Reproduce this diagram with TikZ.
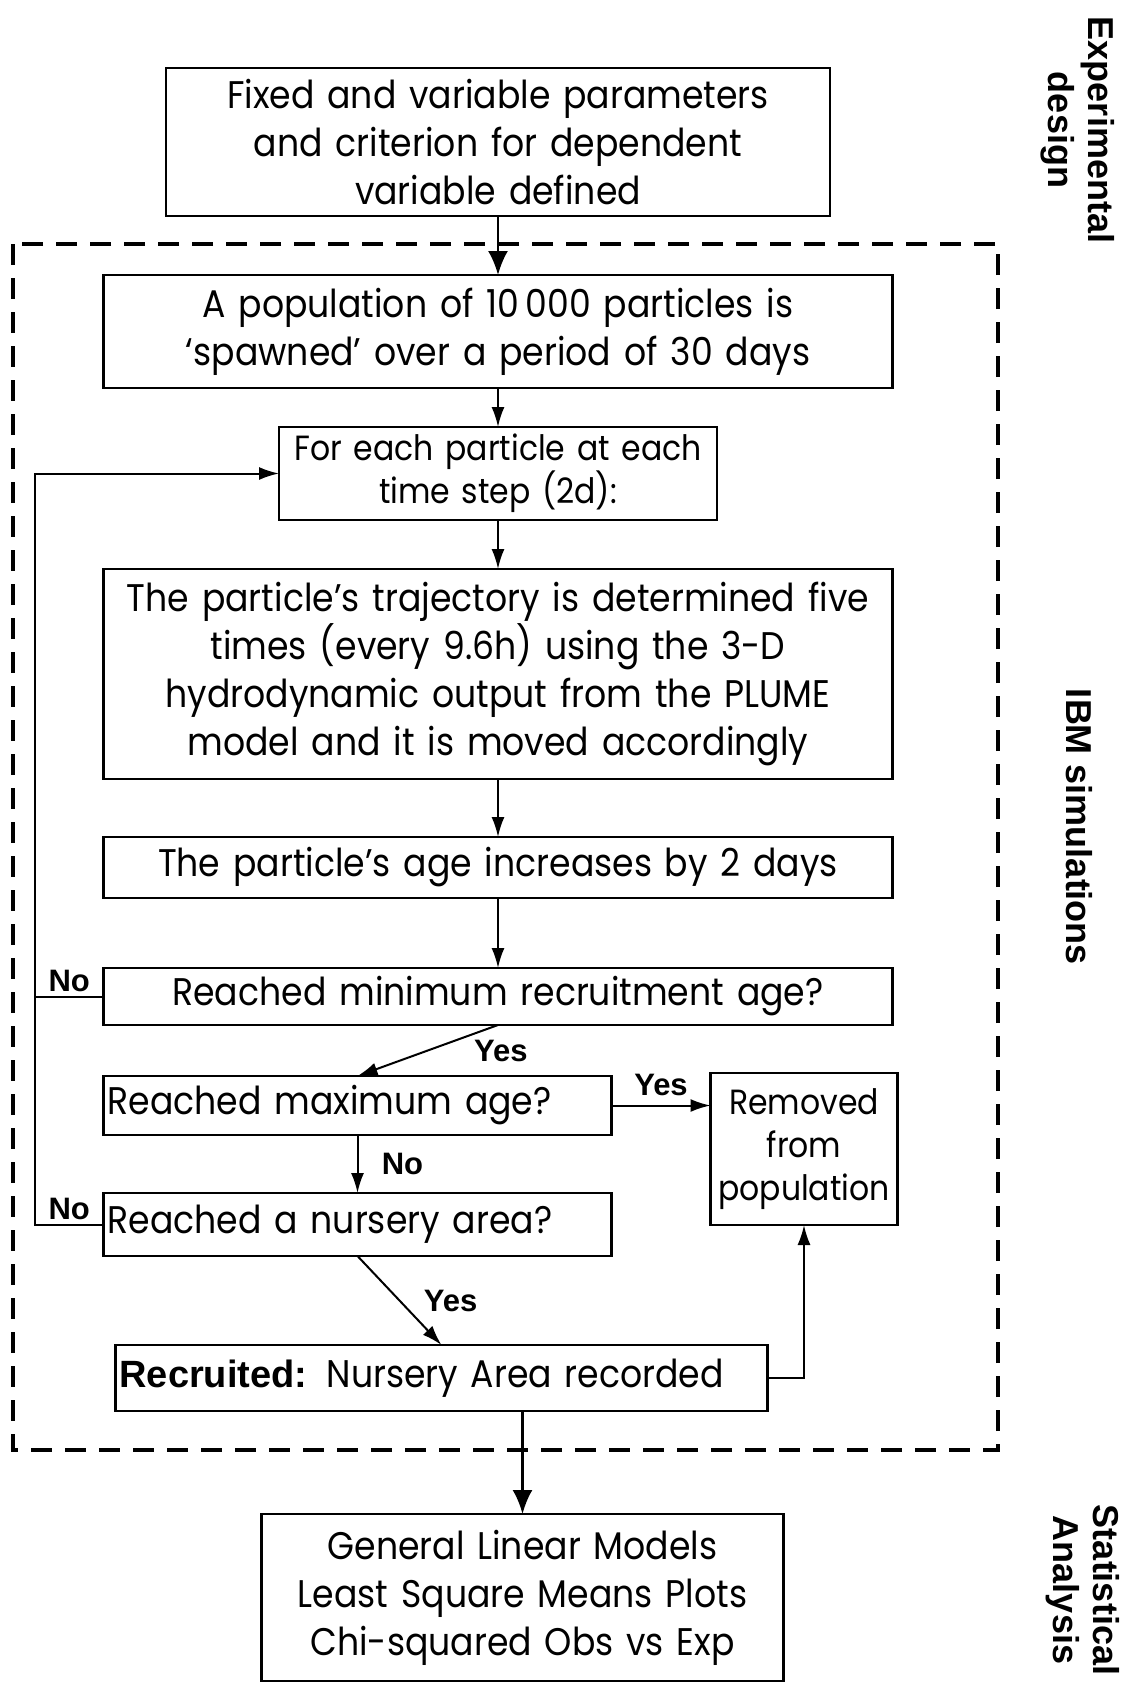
\documentclass[tikz,border=0pt]{standalone}
\usepackage{fontspec}
\setmainfont{Poppins}[FakeStretch=0.9]
\newfontfamily\labelfont{Liberation Sans}
\usetikzlibrary{positioning,arrows.meta}

\begin{document}
\begin{tikzpicture}[
    x=1pt,y=-1pt,
    process/.style={draw,line width=2.4pt,inner sep=4pt,outer sep=0pt,align=center,
      font=\fontsize{38.5}{48}\selectfont},
    small/.style={font=\fontsize{35}{43}\selectfont},
    answer/.style={font=\labelfont\bfseries\fontsize{31}{34}\selectfont},
    phase/.style={rotate=-90,align=center,
      font=\labelfont\bfseries\fontsize{36}{40}\selectfont},
    >={Latex[length=20pt,width=13pt]},
    line width=2pt
    ]
    \useasboundingbox (0,0) rectangle (1138,1684);

    \node (design) [process,text width=656pt,minimum height=148pt] at (498,142)
      {Fixed and variable parameters\\and criterion for dependent\\variable defined};
    \node (spawn) [process,text width=781pt,minimum height=113pt,below=59pt of design]
      {A population of 10\,000 particles is\\`spawned' over a period of 30 days};
    \node (timestep) [process,small,text width=430pt,minimum height=93pt,below=39pt of spawn]
      {For each particle at each\\time step (2d):};
    \node (trajectory) [process,text width=781pt,minimum height=210pt,below=49pt of timestep]
      {The particle’s trajectory is determined five\\times (every 9.6h) using the 3-D\\hydrodynamic output from the PLUME\\model and it is moved accordingly};
    \node (ageing) [process,text width=781pt,minimum height=61pt,below=58pt of trajectory]
      {The particle’s age increases by 2 days};
    \node (minage) [process,text width=781pt,minimum height=57pt,below=70pt of ageing]
      {Reached minimum recruitment age?};
    \node (maxage) [process,align=left,text width=500pt,minimum height=59pt,
      below=51pt of minage.south west,anchor=north west]
      {Reached maximum age?};
    \node (nursery) [process,align=left,text width=500pt,minimum height=63pt,below=58pt of maxage]
      {Reached a nursery area?};
    \node (removed) [process,small,text width=179pt,minimum height=152pt,
      right=99pt of maxage.north east,anchor=north west,yshift=3pt]
      {Removed\\from\\population};
    \node (recruited) [process,align=left,text width=644pt,minimum height=66pt,
      below=89pt of nursery.south west,anchor=north west,xshift=12pt]
      {{\labelfont\bfseries\fontsize{38}{44}\selectfont Recruited:} Nursery Area recorded};
    \node (analysis) [process,text width=514pt,minimum height=167pt,
      below=103pt of recruited.south west,anchor=north west,xshift=146pt]
      {General Linear Models\\Least Square Means Plots\\Chi-squared Obs vs Exp};

    % phases
    \draw [dashed,dash pattern=on 21pt off 13pt,line width=3.5pt] (13,244) rectangle (998,1450);
    \node (expdesign) [phase] at (1078,130) {Experimental\\design};
    \node (ibm) [phase] at (1079,827) {IBM simulations};
    \node (stats) [phase] at (1083,1590) {Statistical\\Analysis};

    \coordinate (loop) at (35,0);

    \draw[-{Latex[length=24pt,width=20pt]},line width=2.6pt] (design) -- (spawn);
    \draw[->] (spawn) -- (timestep);
    \draw[->] (timestep) -- (trajectory);
    \draw[->] (trajectory) -- (ageing);
    \draw[->] (ageing) -- (minage);
    \draw[->] (minage.south) to node [answer,midway,right=42pt] {Yes} (maxage.north);
    \draw[->] (maxage.east) to node [answer,above=5pt] {Yes} (maxage.east -| removed.west);
    \draw[->] (maxage) to node [answer,right=20pt] {No} (nursery);
    \draw[->] (nursery.south) to node [answer,midway,right=20pt] {Yes} (recruited.north);
    \draw[->] (recruited.east) -| (removed.south);
    \draw[-{Latex[length=24pt,width=20pt]},line width=2.6pt]
      (analysis.north |- recruited.south) -- (analysis.north);
    \draw (minage.west) to node [answer,above] {No} (minage.west -| loop);
    \draw[->] (nursery.west) to node [answer,above] {No} (nursery.west -| loop)
      |- (timestep.west);

  \end{tikzpicture}
\end{document}
